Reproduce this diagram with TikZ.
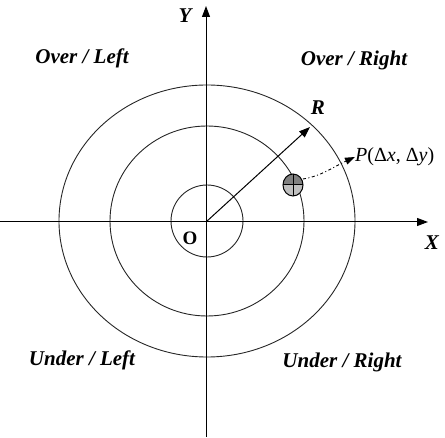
\documentclass[tikz,border=0pt]{standalone}
\usepackage{fontspec}
\setmainfont{Liberation Serif}
\usetikzlibrary{arrows.meta,patterns}
\begin{document}
\begin{tikzpicture}[x=1pt,y=-1pt,
  ring/.style={draw=black!85, line width=0.9pt},
  axis/.style={draw=black, line width=1pt, -{Triangle[length=11pt,width=8pt]}},
  quad/.style={font=\bfseries\itshape\fontsize{21}{24}\selectfont, inner sep=0pt},
  axlabel/.style={font=\bfseries\itshape\fontsize{21}{24}\selectfont, inner sep=0pt}]
\useasboundingbox (0,0) rectangle (445,438);
\coordinate (c) at (207,221);
% rings
\draw[ring] (c) ellipse [x radius=148, y radius=136];
\draw[ring] (c) ellipse [x radius=97, y radius=95];
\draw[ring] (c) circle [radius=36];
% axes
\coordinate (xs) at (0,222);
\coordinate (xe) at (428,222);
\coordinate (ys) at (206,437);
\coordinate (ye) at (206,6);
\draw[axis] (xs) -- (xe);
\draw[axis] (ys) -- (ye);
% radius arrow
\coordinate (rt) at (310,127);
\draw[axis] (206,222) -- (rt);
% point
\node (pt) [circle, minimum width=20pt, minimum height=22pt, inner sep=0pt] at (293,185) {};
\fill[black!50] (283,185) arc[start angle=180,end angle=360,x radius=10,y radius=11] -- cycle;
\fill[black!25] (283,185) arc[start angle=180,end angle=0,x radius=10,y radius=11] -- cycle;
\draw[line width=1pt] (pt.center) ellipse [x radius=10, y radius=11];
\draw[line width=1pt] (293,174) -- (293,196) (283,185) -- (303,185);
% labels
\node (ylab) [axlabel] at (185,16) {Y};
\node (xlab) [axlabel] at (432,243) {X};
\node (o) [font=\bfseries\fontsize{19}{22}\selectfont, inner sep=0pt] at (190,238) {O};
\node (r) [axlabel] at (318,108) {R};
\node (plab) [anchor=west, inner sep=0pt, font=\fontsize{20}{24}\selectfont] at (355,157) {\textit{P}(Δ\textit{x}, Δ\textit{y})};
\draw[line width=0.9pt, dash pattern=on 3pt off 2.5pt on 1pt off 2.5pt, -{Triangle[length=10pt,width=7pt]}]
  (303,179) .. controls (322,176) and (335,166) .. (plab.west);
\node (ol) [quad] at (82,58) {Over / Left};
\node (or) [quad] at (354,60) {Over / Right};
\node (ul) [quad] at (82,360) {Under / Left};
\node (ur) [quad] at (342,362) {Under / Right};
\end{tikzpicture}
\end{document}
